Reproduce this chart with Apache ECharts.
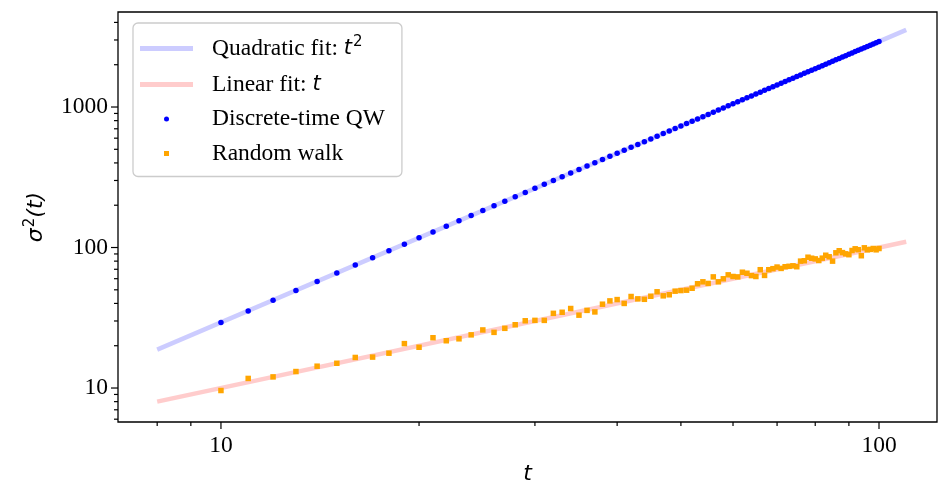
<!DOCTYPE html>
<html>
<head>
<meta charset="utf-8">
<script src="https://cdn.jsdelivr.net/npm/echarts@6/dist/echarts.min.js"></script>
<style>html,body{margin:0;padding:0;background:#fff;}#c{width:940px;height:486px;}</style>
</head>
<body>
<div id="c"></div>
<script>
// ---- data ----
const steps = [10,11,12,13,14,15,16,17,18,19,20,21,22,23,24,25,26,27,28,29,30,31,32,33,34,35,36,37,38,39,40,41,42,43,44,45,46,47,48,49,50,51,52,53,54,55,56,57,58,59,60,61,62,63,64,65,66,67,68,69,70,71,72,73,74,75,76,77,78,79,80,81,82,83,84,85,86,87,88,89,90,91,92,93,94,95,96,97,98,99,100];
const qwVariance = [29.3,35.4,42.2,49.5,57.4,65.9,75.0,84.6,94.9,105.7,117.2,129.2,141.8,154.9,168.7,183.1,198.0,213.5,229.6,246.3,263.6,281.5,299.9,319.0,338.6,358.8,379.6,401.0,422.9,445.5,468.6,492.4,516.7,541.6,567.1,593.1,619.8,647.0,674.8,703.3,732.3,761.8,792.0,822.8,854.1,886.0,918.5,951.6,985.3,1019.6,1054.4,1089.9,1125.9,1162.5,1199.7,1237.5,1275.9,1314.8,1354.4,1394.5,1435.2,1476.5,1518.4,1560.9,1603.9,1647.6,1691.8,1736.6,1782.0,1828.0,1874.6,1921.7,1969.5,2017.8,2066.7,2116.2,2166.3,2217.0,2268.2,2320.1,2372.5,2425.5,2479.1,2533.3,2588.1,2643.4,2699.4,2755.9,2813.0,2870.7,2929.0];
const rwVariance = [9.6,11.7,12.0,13.1,14.3,15.0,16.5,16.6,17.7,20.7,19.5,22.8,21.7,22.4,23.9,25.9,24.9,26.6,28.2,30.1,30.3,30.3,34.0,34.6,36.8,33.0,35.7,34.8,39.5,41.7,42.6,40.0,44.8,43.1,42.8,45.0,48.4,45.3,46.1,48.9,49.4,49.7,51.3,55.2,57.0,55.5,61.8,57.0,59.9,63.9,62.2,61.8,66.7,65.6,63.1,62.2,69.5,63.3,69.5,70.7,72.6,71.0,73.0,73.5,74.1,73.0,80.0,80.5,85.3,83.9,83.0,80.8,84.0,88.1,85.9,80.0,91.7,94.8,92.0,90.2,88.9,95.2,97.9,96.5,87.4,99.5,96.3,97.0,98.4,96.3,98.4];
const fitT = [8, 110];
const quadFit = [18.75, 3544];
const linFit = [8, 110];
const seriesNames = ['Quadratic fit', 'Linear fit', 'Discrete-time QW', 'Random walk'];
const xMajorTicks = [10, 100];
const xMinorTicks = [8, 9, 20, 30, 40, 50, 60, 70, 80, 90];
const yMajorTicks = [10, 100, 1000];
const yMinorTicks = [6, 7, 8, 9, 20, 30, 40, 50, 60, 70, 80, 90, 200, 300, 400, 500, 600, 700, 800, 900, 2000, 3000, 4000];
const xTickLabels = ['10', '100'];
const yTickLabels = ['10', '100', '1000'];
const xRange = [6.975, 122.5];
const yRange = [5.73, 4745];

// ---- chart ----
const chart = echarts.init(document.getElementById('c'), null, {renderer: 'canvas'});
const serif = 'Liberation Serif';
const pairs = (xs, ys) => xs.map((x, i) => [x, ys[i]]);
function labelFmt(list) {
  return function (v) {
    const s = String(Math.round(v));
    return list.indexOf(s) >= 0 ? s : '';
  };
}
function xTickSeries(vals, len) {
  return {
    type: 'custom', silent: true, clip: false, z: 10,
    data: vals.map(v => [v, 10]),
    renderItem: function (params, api) {
      const x = api.coord([api.value(0), 10])[0];
      const cs = params.coordSys;
      const y0 = cs.y + cs.height;
      return {type: 'line', shape: {x1: x, y1: y0, x2: x, y2: y0 + len}, style: {stroke: '#000', lineWidth: 1.2}};
    }
  };
}
function yTickSeries(vals, len) {
  return {
    type: 'custom', silent: true, clip: false, z: 10,
    data: vals.map(v => [10, v]),
    renderItem: function (params, api) {
      const y = api.coord([10, api.value(1)])[1];
      const cs = params.coordSys;
      const x0 = cs.x;
      return {type: 'line', shape: {x1: x0, y1: y, x2: x0 - len, y2: y}, style: {stroke: '#000', lineWidth: 1.2}};
    }
  };
}
const mathRich = {
  g: {width: 14, fontSize: 23.5, lineHeight: 26},
  a: {fontFamily: serif, fontSize: 23.5, color: '#000', lineHeight: 26},
  m: {fontFamily: 'DejaVu Sans', fontStyle: 'italic', fontSize: 21, color: '#000', lineHeight: 26},
  s: {fontFamily: 'DejaVu Sans', fontSize: 15, color: '#000', lineHeight: 26, padding: [0, 0, 12, 1]}
};
const squareIcon = 'path://M0,0 L10,0 L10,10 L0,10 Z';
const option = {
  animation: false,
  backgroundColor: '#fff',
  grid: {left: 118, right: 3, top: 12, bottom: 64, show: true, borderColor: '#000', borderWidth: 1.3, backgroundColor: 'transparent', outerBoundsMode: 'none'},
  xAxis: {
    type: 'log', logBase: 10, min: xRange[0], max: xRange[1],
    splitLine: {show: false}, axisLine: {show: false}, axisTick: {show: false}, minorTick: {show: false},
    axisLabel: {formatter: labelFmt(xTickLabels), fontFamily: serif, fontSize: 23.5, color: '#000', margin: 12, showMinLabel: true, showMaxLabel: true},
    name: 't', nameLocation: 'middle', nameGap: 38,
    nameTextStyle: {fontFamily: 'DejaVu Sans', fontStyle: 'italic', fontSize: 22, color: '#000'}
  },
  yAxis: {
    type: 'log', logBase: 10, min: yRange[0], max: yRange[1],
    splitLine: {show: false}, axisLine: {show: false}, axisTick: {show: false}, minorTick: {show: false},
    axisLabel: {formatter: labelFmt(yTickLabels), fontFamily: serif, fontSize: 23.5, color: '#000', margin: 10},
    name: '{m|σ}{s|2}{m|(t)}', nameLocation: 'middle', nameGap: 62, nameRotate: 90,
    nameTextStyle: {color: '#000', rich: {
      m: {fontFamily: 'DejaVu Sans', fontStyle: 'italic', fontSize: 22, color: '#000', lineHeight: 26},
      s: {fontFamily: 'DejaVu Sans', fontSize: 15, color: '#000', lineHeight: 26, padding: [0, 0, 12, 1]}
    }}
  },
  legend: {
    orient: 'vertical', left: 133, top: 23,
    padding: [12, 17, 11, 7],
    itemWidth: 53, itemHeight: 5, itemGap: 10.5,
    borderColor: '#cccccc', borderWidth: 1.3, borderRadius: 5,
    backgroundColor: 'rgba(255,255,255,0.8)',
    symbolKeepAspect: true,
    data: [
      {name: seriesNames[0], icon: 'rect', itemStyle: {color: 'rgba(0,0,255,0.2)', borderWidth: 0}},
      {name: seriesNames[1], icon: 'rect', itemStyle: {color: 'rgba(255,0,0,0.2)', borderWidth: 0}},
      {name: seriesNames[2], icon: 'circle'},
      {name: seriesNames[3], icon: squareIcon}
    ],
    textStyle: {fontFamily: serif, fontSize: 23.5, color: '#000', rich: mathRich},
    formatter: function (name) {
      if (name === seriesNames[0]) return '{g| }{a|Quadratic fit: }{m|t}{s|2}';
      if (name === seriesNames[1]) return '{g| }{a|Linear fit: }{m|t}';
      return '{g| }{a|' + name + '}';
    }
  },
  series: [
    {name: seriesNames[0], type: 'line', data: pairs(fitT, quadFit), symbol: 'none', showSymbol: false,
     lineStyle: {color: 'rgba(0,0,255,0.2)', width: 4.5}, itemStyle: {color: 'rgba(0,0,255,0.2)'}, z: 2},
    {name: seriesNames[1], type: 'line', data: pairs(fitT, linFit), symbol: 'none', showSymbol: false,
     lineStyle: {color: 'rgba(255,0,0,0.2)', width: 4.5}, itemStyle: {color: 'rgba(255,0,0,0.2)'}, z: 2},
    {name: seriesNames[2], type: 'scatter', data: pairs(steps, qwVariance), symbol: 'circle', symbolSize: 5.5,
     itemStyle: {color: '#0000ff', opacity: 1}, z: 3},
    {name: seriesNames[3], type: 'scatter', data: pairs(steps, rwVariance), symbol: 'rect', symbolSize: 5.5,
     itemStyle: {color: '#ffa500', opacity: 1}, z: 3},
    xTickSeries(xMajorTicks, 7), xTickSeries(xMinorTicks, 4),
    yTickSeries(yMajorTicks, 7), yTickSeries(yMinorTicks, 4)
  ]
};
chart.setOption(option);
</script>
</body>
</html>
